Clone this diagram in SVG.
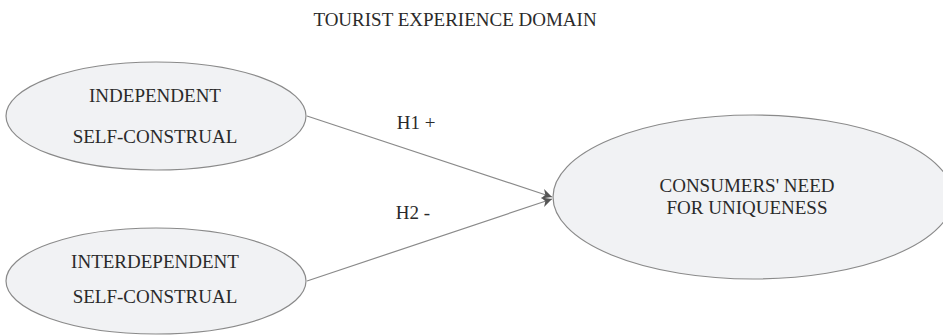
<svg xmlns="http://www.w3.org/2000/svg" width="943" height="336" viewBox="0 0 943 336">
<style>
.node ellipse{fill:#f1f2f4;stroke:#8a8a8a;stroke-width:1.2}
text{font-family:"Liberation Serif","Times New Roman",serif;font-size:19px;fill:#2a2a2a;text-anchor:middle}
.edge{stroke:#8a8a8a;stroke-width:1.2;fill:none}
</style>
<defs>
<marker id="arr" viewBox="0 0 10 10" refX="10" refY="5" markerWidth="10" markerHeight="10" markerUnits="userSpaceOnUse" orient="auto">
<path d="M0,0 L10,5 L0,10 L3,5 Z" fill="#555"/>
</marker>
</defs>
<text id="title" x="455" y="26">TOURIST EXPERIENCE DOMAIN</text>
<g id="connectors">
<line class="edge" x1="307" y1="116" x2="552" y2="197" marker-end="url(#arr)"/>
<line class="edge" x1="307" y1="281" x2="552" y2="199" marker-end="url(#arr)"/>
<text x="416" y="129">H1 +</text>
<text x="413" y="219">H2 -</text>
</g>
<g id="independent" class="node">
<ellipse cx="156" cy="116" rx="150" ry="54"/>
<text x="155" y="102">INDEPENDENT</text>
<text x="155" y="143">SELF-CONSTRUAL</text>
</g>
<g id="interdependent" class="node">
<ellipse cx="156" cy="281" rx="150" ry="53"/>
<text x="155" y="268">INTERDEPENDENT</text>
<text x="155" y="303">SELF-CONSTRUAL</text>
</g>
<g id="uniqueness" class="node">
<ellipse cx="753" cy="197" rx="200" ry="82"/>
<text x="747" y="192">CONSUMERS' NEED</text>
<text x="747" y="214">FOR UNIQUENESS</text>
</g>
</svg>
